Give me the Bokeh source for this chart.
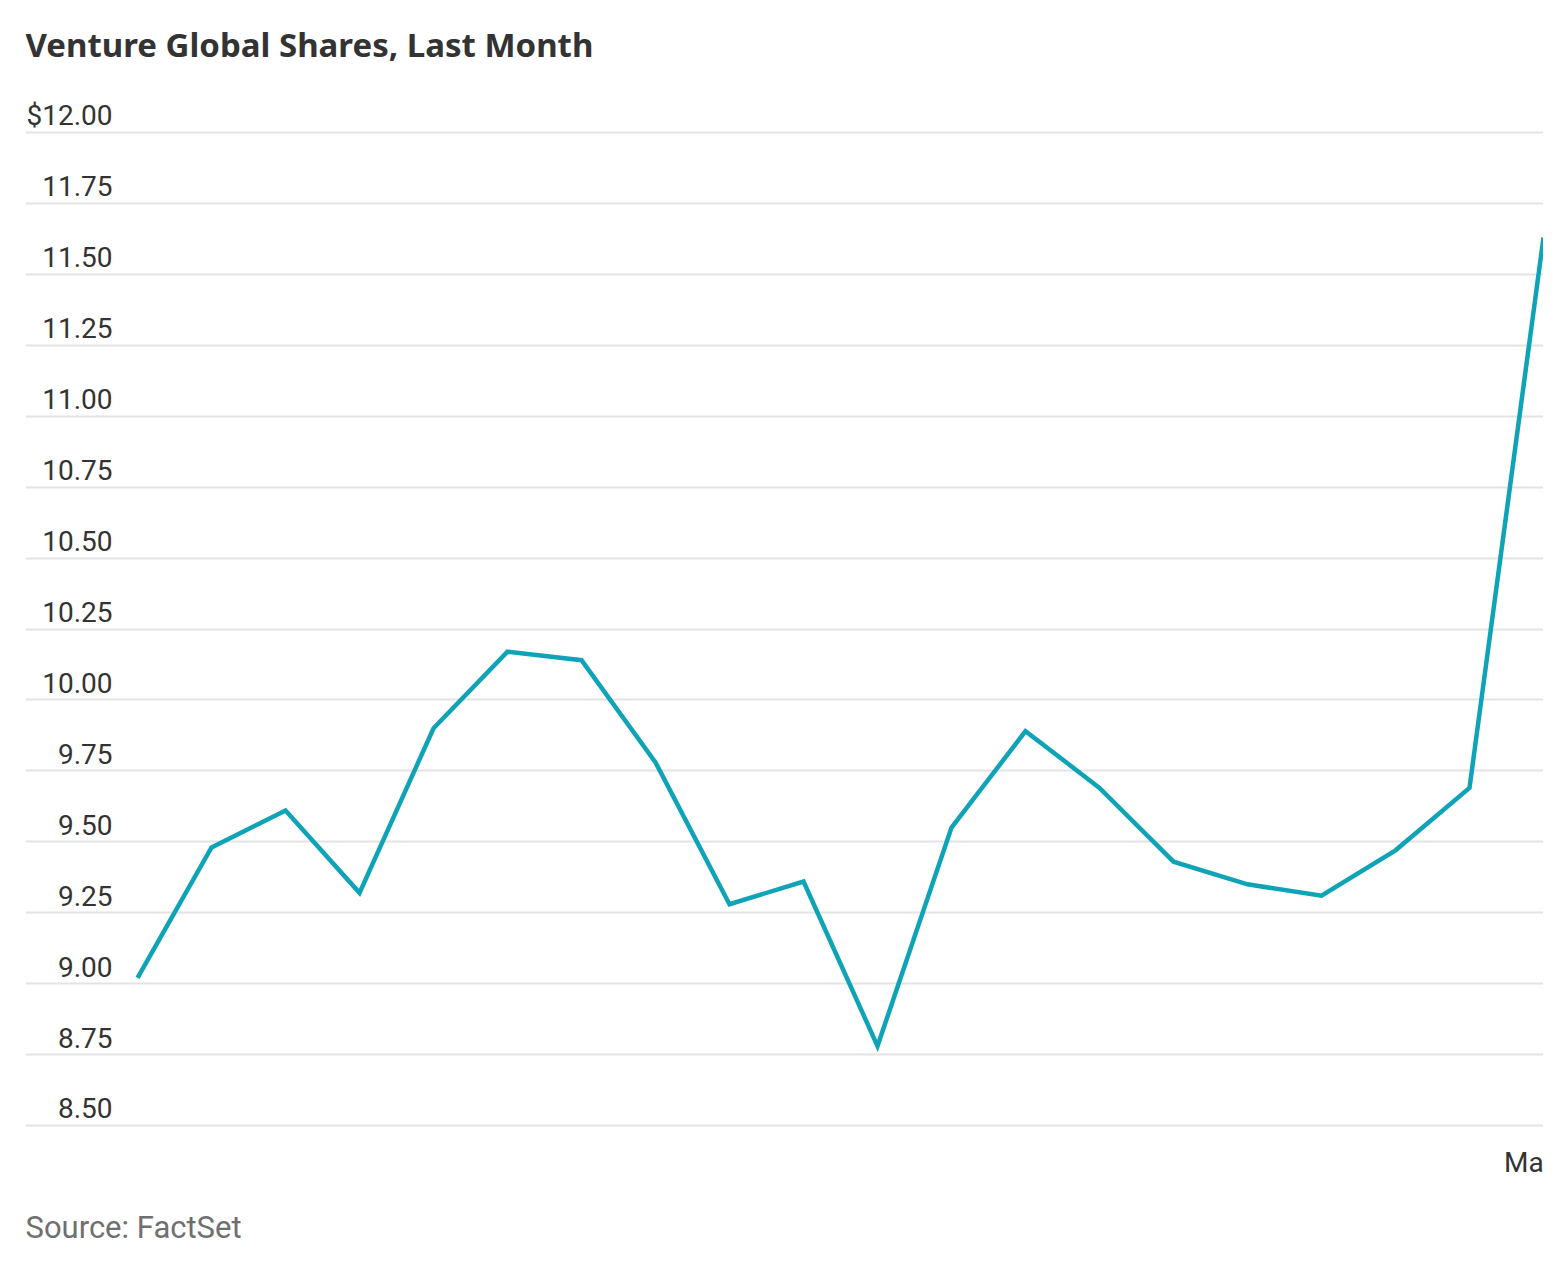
from bokeh.plotting import figure
from bokeh.models import Range1d, FixedTicker, ColumnDataSource
from bokeh.core.properties import value
from bokeh.embed import file_html
from bokeh.resources import INLINE

# daily closes, last month
day_index = list(range(20))
price = [9.02, 9.48, 9.61, 9.32, 9.90, 10.17, 10.14, 9.78, 9.28, 9.36,
         8.78, 9.55, 9.89, 9.69, 9.43, 9.35, 9.31, 9.47, 9.69, 11.63]

# y ticks and their labels
y_ticks = [8.5, 8.75, 9.0, 9.25, 9.5, 9.75, 10.0, 10.25, 10.5, 10.75,
           11.0, 11.25, 11.5, 11.75, 12.0]
y_labels = ["8.50", "8.75", "9.00", "9.25", "9.50", "9.75", "10.00", "10.25",
            "10.50", "10.75", "11.00", "11.25", "11.50", "11.75", "$12.00"]

# x tick (last session)
x_ticks = [19]
x_labels = ["March"]

title = "Venture Global Shares, Last Month"
source_note = "Source: FactSet"

X0 = -1.514
p = figure(width=1543, height=1250,
           x_range=Range1d(X0, 19), y_range=Range1d(8.0594, 12.4653),
           output_backend="svg", toolbar_location=None,
           min_border_left=25, min_border_right=0, min_border_top=0,
           min_border_bottom=0)
p.outline_line_color = None
p.background_fill_color = "white"
p.border_fill_color = "white"
p.axis.visible = False
p.xgrid.visible = False
p.ygrid.ticker = FixedTicker(ticks=y_ticks)
p.ygrid.grid_line_color = "#e3e3e3"
p.ygrid.grid_line_width = 2

# y tick labels sit just above their gridlines
lab = ColumnDataSource(dict(y=y_ticks, text=y_labels, x=[X0] * len(y_ticks)))
p.text(x="x", y="y", text="text", source=lab, x_offset=87, y_offset=-17,
       text_align="right", text_baseline="alphabetic",
       text_font=value("Roboto"), text_font_size="28px", text_color="#333333")

# x tick label, clipped by the right edge like the original
p.text(x=x_ticks, y=[y_ticks[0]] * len(x_ticks), text=x_labels, y_offset=37,
       text_align="center", text_baseline="alphabetic",
       text_font=value("Roboto"), text_font_size="28px", text_color="#333333")

p.text(x=[X0], y=[y_ticks[-1]], text=[title], y_offset=-88,
       text_align="left", text_baseline="alphabetic",
       text_font=value("Noto Sans"), text_font_style="bold",
       text_font_size="33px", text_color="#333333")

p.text(x=[X0], y=[y_ticks[0]], text=[source_note], y_offset=102,
       text_align="left", text_baseline="alphabetic",
       text_font=value("Roboto"), text_font_size="31px", text_color="#6f6f6f")

p.line(day_index, price, line_color="#0fa3b8", line_width=4.5, line_join="miter")

open("out.html", "w").write(file_html(p, INLINE))
